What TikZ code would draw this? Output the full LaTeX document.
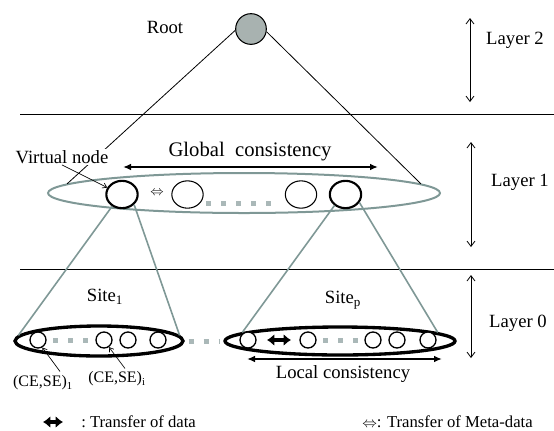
\documentclass[tikz,border=0pt]{standalone}
\usepackage{fontspec}
\setmainfont{Liberation Serif}
\usetikzlibrary{shapes.geometric,arrows.meta}
\definecolor{linkgray}{RGB}{127,152,150}
\definecolor{rootgray}{RGB}{168,178,176}
\definecolor{dotgray}{RGB}{170,184,184}
\begin{document}
\begin{tikzpicture}[x=0.75pt,y=0.75pt,yscale=-1,xscale=1,
	txt/.style={inner sep=0.75pt,font=\fontsize{14}{16}\selectfont},
	smalltxt/.style={inner sep=0.75pt,font=\fontsize{12}{14}\selectfont},
	vnode/.style={draw,ellipse,fill=white,inner sep=0pt,minimum width=23.5pt,minimum height=20.5pt},
	snode/.style={draw,circle,fill=white,inner sep=0pt,minimum size=12pt,line width=1pt},
	siteset/.style={draw,ellipse,fill=white,inner sep=0pt,line width=2.5pt},
	dotline/.style={dotgray,line width=3.75pt,dash pattern=on 3.75pt off 7.5pt},
	link/.style={linkgray,line width=1.2pt},
	layerarrow/.style={line width=0.6pt,{Straight Barb[length=4pt,width=6pt]}-{Straight Barb[length=4pt,width=6pt]}},
	consarrow/.style={line width=1.3pt,{Latex[length=6pt,width=5pt]}-{Latex[length=6pt,width=5pt]}},
	dataarrow/.style={line width=2.4pt,{Latex[length=5.5pt,width=9pt]}-{Latex[length=5.5pt,width=9pt]}},
	pointer/.style={line width=0.5pt,-{Straight Barb[length=3pt,width=4pt]}}]
	\useasboundingbox (0,0) rectangle (554,430);

	\coordinate (l2a) at (20,114); \coordinate (l2b) at (554,114);
	\coordinate (l1a) at (20,269); \coordinate (l1b) at (554,269);
	\draw [line width=0.6pt] (l2a) -- (l2b);
	\draw [line width=0.6pt] (l1a) -- (l1b);

	\node [draw,circle,fill=rootgray,line width=0.8pt,inner sep=0pt,minimum size=23pt] (root) at (251,29) {};
	\node [txt] (roottxt) at (165,27) {Root};
	\node [draw=linkgray,ellipse,line width=1.5pt,inner sep=0pt,minimum width=294pt,minimum height=30pt] (layer1) at (244,193) {};
	\draw [line width=0.6pt] (root.185) -- (layer1.177);
	\draw [line width=0.6pt] (root.350) -- (layer1.3);
	\node [txt,fill=white] (vlabel) at (62,157) {Virtual node};

	\node [vnode,line width=1.6pt] (v1) at (122,194.5) {};
	\node [vnode,line width=0.8pt] (v2) at (187.5,194.5) {};
	\node [vnode,line width=0.8pt] (v3) at (301,194.5) {};
	\node [vnode,line width=1.6pt] (v4) at (345.5,194.5) {};
	\draw [pointer] (vlabel.south) -- (v1.155);
	\node [inner sep=0pt,font=\fontsize{10}{12}\selectfont] (meta) at (157,193) {$\Leftrightarrow$};
	\coordinate (dv2) at (206,203); \coordinate (dv3) at (272,203);
	\draw [dotline] (dv2) -- (dv3);

	\coordinate (gcl) at (123,167); \coordinate (gcr) at (378,167);
	\draw [consarrow] (gcl) -- (gcr);
	\node [inner sep=0.75pt,font=\fontsize{15.5}{18}\selectfont] (gctxt) at (250,152) {Global\ \ consistency};

	\coordinate (a2t) at (470,18); \coordinate (a2b) at (470,102);
	\coordinate (a1t) at (471,142); \coordinate (a1b) at (471,247);
	\coordinate (a0t) at (471,275); \coordinate (a0b) at (471,358);
	\draw [layerarrow] (a2t) -- (a2b);
	\draw [layerarrow] (a1t) -- (a1b);
	\draw [layerarrow] (a0t) -- (a0b);
	\node [txt] (lay2) at (515,40) {Layer 2};
	\node [txt] (lay1) at (520,182) {Layer 1};
	\node [txt] (lay0) at (518,323) {Layer 0};

	\node [siteset,minimum width=126pt,minimum height=22.5pt] (site1) at (99,341) {};
	\node [siteset,minimum width=172.5pt,minimum height=21pt] (sitep) at (340,341) {};
	\node [txt] (site1txt) at (105,297) {Site\textsubscript{1}};
	\node [txt] (siteptxt) at (343,300) {Site\textsubscript{p}};

	\node [snode] (c11) at (38,340) {};
	\node [snode] (c12) at (104,340) {};
	\node [snode] (c13) at (128,340) {};
	\node [snode] (c14) at (158,340) {};
	\node [snode] (cp1) at (248,340) {};
	\node [snode] (cp2) at (308,340) {};
	\node [snode] (cp3) at (373,340) {};
	\node [snode] (cp4) at (397,340) {};
	\node [snode] (cp5) at (428,340) {};
	\draw [dotline,shorten <=5pt,shorten >=3pt] (c11.east) -- (c12.west);
	\draw [dotline,shorten <=3pt,shorten >=3pt] (site1.east) -- (sitep.west);
	\draw [dotline,shorten <=5pt,shorten >=5pt] (cp2.east) -- (cp3.west);
	\coordinate (dl) at (267,340); \coordinate (dr) at (291,340);
	\draw [dataarrow] (dl) -- (dr);

	\draw [link] (v1.230) -- (site1.176);
	\draw [link] (v1.320) -- (site1.4);
	\draw [link] (v4.225) -- (sitep.175);
	\draw [link] (v4.330) -- (sitep.5);

	\coordinate (lcl) at (247,359); \coordinate (lcr) at (442,359);
	\draw [consarrow] (lcl) -- (lcr);
	\node [txt] (lctxt) at (343,374) {Local consistency};

	\node [smalltxt] (ce1) at (43,383) {(CE,SE)\textsubscript{1}};
	\node [smalltxt] (cei) at (117,379) {(CE,SE)\textsubscript{i}};
	\draw [pointer] (ce1.north) ++(17,-3) -- (c11.300);
	\draw [pointer] (cei.north) ++(8,-2) -- (c12.305);

	\coordinate (kl) at (43,422); \coordinate (kr) at (63,422);
	\draw [dataarrow] (kl) -- (kr);
	\node [smalltxt,anchor=west,font=\fontsize{12.5}{14}\selectfont] (keydata) at (80,422) {:\ Transfer of data};
	\node [smalltxt,anchor=west,font=\fontsize{12.5}{14}\selectfont] (keymeta) at (361,422) {{\fontsize{11}{12}\selectfont$\Leftrightarrow$}: Transfer of Meta-data};
\end{tikzpicture}
\end{document}
